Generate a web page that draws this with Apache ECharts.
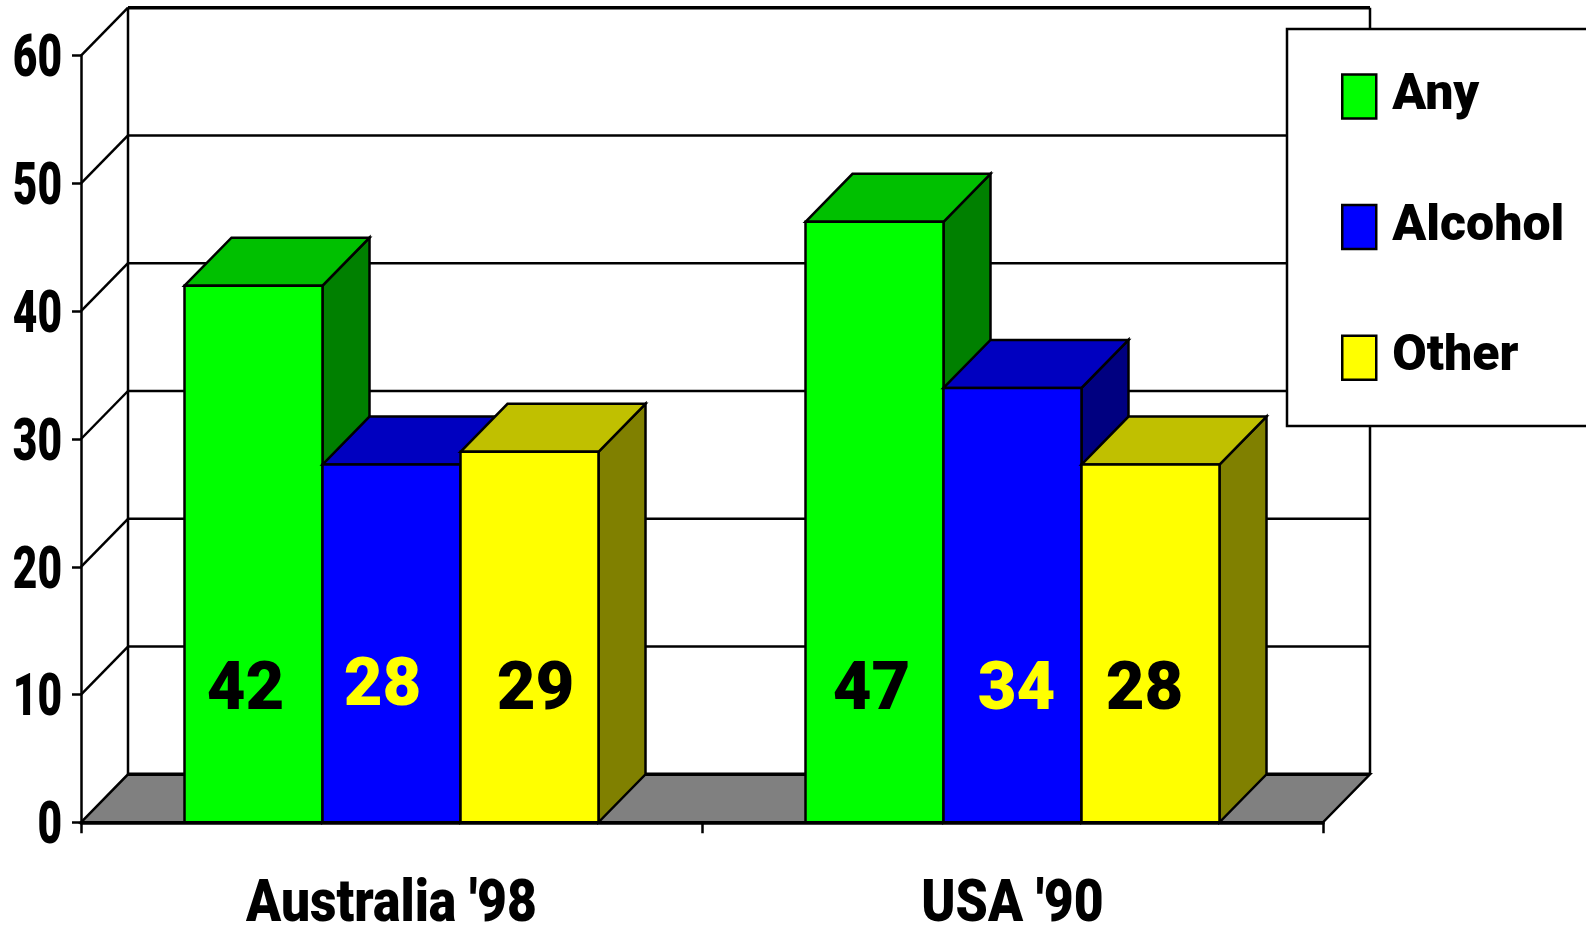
<!DOCTYPE html>
<html>
<head>
<meta charset="utf-8">
<title>Prevalence by survey</title>
<script src="https://cdn.jsdelivr.net/npm/echarts@6/dist/echarts.min.js"></script>
<style>
  html, body { margin: 0; padding: 0; background: #fff; overflow: hidden; }
  #chart { width: 1586px; height: 925px; }
</style>
</head>
<body>
<div id="chart"></div>
<script>
// Survey values
const categories = ["Australia '98", "USA '90"];
const anyValues = [42, 47];
const alcoholValues = [28, 34];
const otherValues = [29, 28];
const valueTicks = [0, 10, 20, 30, 40, 50, 60];

// Face colours of each box series: front, top, side, then the value label colour
const palette = {
  Any: ['#00ff00', '#00c000', '#008000', '#000000'],
  Alcohol: ['#0000ff', '#0000c0', '#000080', '#ffff00'],
  Other: ['#ffff00', '#c0c000', '#808000', '#000000']
};

// Oblique projection of the depth axis, in pixels
const DEPTH_X = 47;
const DEPTH_Y = 48;
// A category band holds three boxes and one and a half boxes of gap
const BAND_UNITS = 4.5;
// Value labels sit near this level on the value axis
const LABEL_LEVEL = 10.2;
// Hand placement of the value labels relative to the centre of each box
const labelNudgeX = { Any: [-8, -3], Alcohol: [-9, 4], Other: [6, -6] };
const labelNudgeY = { Any: [0, 0], Alcohol: [-4, 0], Other: [0, 0] };

const TEXT_FONT = 'Roboto, sans-serif';
const RULE = 2.5;

function renderWall(params, api) {
  const cs = params.coordSys;
  const v = api.value(1);
  const y = api.coord([0, v])[1];
  const left = cs.x;
  const right = cs.x + cs.width;
  const line = { stroke: '#000', lineWidth: RULE };
  const children = [];
  if (v === 0) {
    // Grey floor and the two back verticals are drawn once, from the zero level
    children.push({
      type: 'polygon',
      shape: { points: [[left, y], [left + DEPTH_X, y - DEPTH_Y], [right + DEPTH_X, y - DEPTH_Y], [right, y]] },
      style: { fill: '#808080', stroke: '#000', lineWidth: RULE }
    });
    children.push({
      type: 'line',
      shape: { x1: left + DEPTH_X, y1: y - DEPTH_Y, x2: right + DEPTH_X, y2: y - DEPTH_Y },
      style: { stroke: '#000', lineWidth: 3.5 }
    });
    children.push({
      type: 'line',
      shape: { x1: left + DEPTH_X, y1: y - DEPTH_Y, x2: left + DEPTH_X, y2: cs.y - DEPTH_Y },
      style: line
    });
    children.push({
      type: 'line',
      shape: { x1: right + DEPTH_X, y1: y - DEPTH_Y, x2: right + DEPTH_X, y2: cs.y - DEPTH_Y },
      style: line
    });
  } else {
    children.push({
      type: 'line',
      shape: { x1: left, y1: y, x2: left + DEPTH_X, y2: y - DEPTH_Y },
      style: line
    });
    children.push({
      type: 'line',
      shape: { x1: left + DEPTH_X, y1: y - DEPTH_Y, x2: right + DEPTH_X, y2: y - DEPTH_Y },
      style: v === valueTicks[valueTicks.length - 1] ? { stroke: '#000', lineWidth: 3.5 } : line
    });
  }
  return { type: 'group', children: children };
}

// Tall, narrow bold text for the axes: a regular face squeezed horizontally
function narrowText(text, x, y, size, squeeze, align) {
  return {
    type: 'text',
    x: x,
    y: y,
    scaleX: squeeze,
    style: {
      text: text,
      fill: '#000',
      font: '900 ' + size + 'px ' + TEXT_FONT,
      align: align,
      verticalAlign: 'middle'
    }
  };
}

function renderValueLabel(params, api) {
  const pos = api.coord([0, api.value(1)]);
  return narrowText(String(api.value(1)), params.coordSys.x - 19, pos[1] + 6, 59, 0.72, 'right');
}

function renderCategoryLabel(params, api) {
  const i = api.value(0);
  const pos = api.coord([i, 0]);
  return narrowText(categories[i], pos[0], pos[1] + 84, 60, 0.86, 'center');
}

function boxRenderer(name, slot) {
  const [front, top, side, labelColor] = palette[name];
  return function (params, api) {
    const catIndex = api.value(0);
    const value = api.value(1);
    const band = api.size([1, 0])[0];
    const w = band / BAND_UNITS;
    const centre = api.coord([catIndex, 0])[0];
    const x0 = centre + (slot - 1.5) * w;
    const x1 = x0 + w;
    const yBase = api.coord([catIndex, 0])[1];
    const yTop = api.coord([catIndex, value])[1];
    const yLabel = api.coord([catIndex, LABEL_LEVEL])[1];
    const edge = { stroke: '#000', lineWidth: RULE, lineJoin: 'miter' };
    return {
      type: 'group',
      children: [
        {
          type: 'polygon',
          shape: { points: [[x1, yTop], [x1 + DEPTH_X, yTop - DEPTH_Y], [x1 + DEPTH_X, yBase - DEPTH_Y], [x1, yBase]] },
          style: Object.assign({ fill: side }, edge)
        },
        {
          type: 'polygon',
          shape: { points: [[x0, yTop], [x0 + DEPTH_X, yTop - DEPTH_Y], [x1 + DEPTH_X, yTop - DEPTH_Y], [x1, yTop]] },
          style: Object.assign({ fill: top }, edge)
        },
        {
          type: 'rect',
          shape: { x: x0, y: yTop, width: w, height: yBase - yTop },
          style: Object.assign({ fill: front }, edge)
        },
        {
          type: 'text',
          x: (x0 + x1) / 2 + labelNudgeX[name][catIndex],
          y: yLabel + labelNudgeY[name][catIndex],
          style: {
            text: String(value),
            fill: labelColor,
            font: '900 67px ' + TEXT_FONT,
            align: 'center',
            verticalAlign: 'middle'
          }
        }
      ]
    };
  };
}

function boxSeries(name, slot, values) {
  return {
    name: name,
    type: 'custom',
    z: 2,
    clip: false,
    renderItem: boxRenderer(name, slot),
    itemStyle: { color: palette[name][0] },
    encode: { x: 0, y: 1 },
    data: values.map((v, i) => [i, v])
  };
}

const chart = echarts.init(document.getElementById('chart'), null, { renderer: 'canvas' });
chart.setOption({
  animation: false,
  backgroundColor: '#ffffff',
  grid: { left: 81, right: 263, top: 55.7, bottom: 102.7, containLabel: false, outerBoundsMode: 'none' },
  xAxis: {
    type: 'category',
    data: categories,
    z: 3,
    axisLine: { show: true, lineStyle: { color: '#000', width: 3.5 } },
    axisTick: { show: true, length: 11, alignWithLabel: false, lineStyle: { color: '#000', width: 2.5 } },
    axisLabel: { show: false }
  },
  yAxis: {
    type: 'value',
    min: 0,
    max: 60,
    interval: 10,
    z: 3,
    splitLine: { show: false },
    axisLine: { show: true, lineStyle: { color: '#000', width: 2.5 } },
    axisTick: { show: true, length: 9, lineStyle: { color: '#000', width: 2.5 } },
    axisLabel: { show: false }
  },
  legend: {
    show: true,
    orient: 'vertical',
    left: 1287,
    top: 29,
    z: 10,
    padding: [31.4, 240, 32.2, 54],
    backgroundColor: '#ffffff',
    borderColor: '#000',
    borderWidth: 2.5,
    icon: 'rect',
    itemWidth: 34,
    itemHeight: 44,
    itemGap: 58.7,
    itemStyle: { borderColor: '#000', borderWidth: 2.5 },
    selectedMode: false,
    textStyle: {
      color: '#000', fontFamily: TEXT_FONT, fontWeight: 900, fontSize: 50,
      lineHeight: 44, padding: [28, 0, 0, 11]
    },
    data: ['Any', 'Alcohol', 'Other']
  },
  series: [
    {
      name: 'walls',
      type: 'custom',
      z: 1,
      clip: false,
      renderItem: renderWall,
      encode: { x: 0, y: 1 },
      data: valueTicks.map(v => [0, v])
    },
    boxSeries('Any', 0, anyValues),
    boxSeries('Alcohol', 1, alcoholValues),
    boxSeries('Other', 2, otherValues),
    {
      name: 'value axis labels',
      type: 'custom',
      z: 4,
      clip: false,
      renderItem: renderValueLabel,
      encode: { x: 0, y: 1 },
      data: valueTicks.map(v => [0, v])
    },
    {
      name: 'category axis labels',
      type: 'custom',
      z: 4,
      clip: false,
      renderItem: renderCategoryLabel,
      encode: { x: 0, y: 1 },
      data: categories.map((c, i) => [i, 0])
    }
  ]
});
</script>
</body>
</html>
